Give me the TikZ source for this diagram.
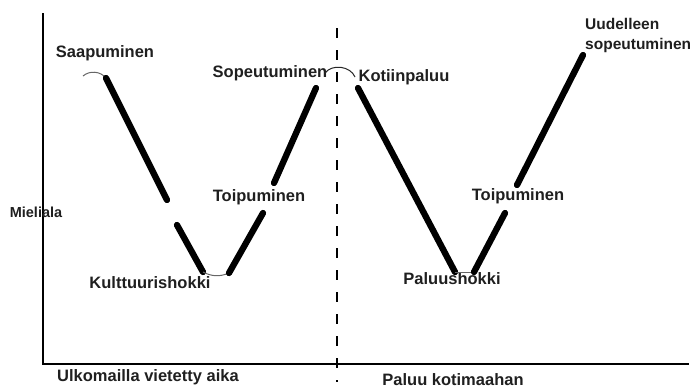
\documentclass[tikz,border=0pt]{standalone}
\usepackage{fontspec}
\setmainfont{Liberation Sans}
\begin{document}
\begin{tikzpicture}[x=1pt,y=-1pt]
\tikzset{
  phase/.style={line width=6.3pt, line cap=round},
  turn/.style={black!60, line width=1pt},
  axis/.style={line width=2.4pt, line join=miter},
  border/.style={line width=1.2pt, dash pattern=on 10pt off 12pt},
  lbl/.style={font=\bfseries\fontsize{16.5}{20}\selectfont, inner sep=0pt, text=black!88}
}
\useasboundingbox (0,0) rectangle (695,389);
% axes and the border between the two stays
\coordinate (ytop) at (43,13);
\coordinate (origin) at (43,364);
\coordinate (xend) at (689,364);
\draw [axis] (ytop) -- (origin) -- (xend);
\coordinate (btop) at (337,28);
\coordinate (bbot) at (337,382);
\draw [border] (btop) -- (bbot);
% labels
\node [lbl] (saap) at (105,53) {Saapuminen};
\node [lbl] (sopeu) at (270,73) {Sopeutuminen};
\node [lbl] (koti) at (404,77) {Kotiinpaluu};
\node [lbl] (toipA) at (259,197) {Toipuminen};
\node [lbl] (shokA) at (150,283) {Kulttuurishokki};
\node [lbl, font=\bfseries\fontsize{14.5}{17}\selectfont] (mieli) at (36,212) {Mieliala};
\node [lbl] (ulko) at (148,377) {Ulkomailla vietetty aika};
\node [lbl] (toipB) at (518,196) {Toipuminen};
\node [lbl] (shokB) at (452,279) {Paluushokki};
\node [lbl] (paluu) at (453,380) {Paluu kotimaahan};
\node [lbl, font=\bfseries\fontsize{15.5}{20}\selectfont, align=left, anchor=north west]
  (uusi) at (585,18) {Uudelleen\\sopeutuminen};
% stay abroad
\coordinate (a1) at (83,76);
\coordinate (a2) at (106,78);
\coordinate (a3) at (167,200);
\coordinate (a4) at (177,225);
\coordinate (a5) at (203,272);
\coordinate (a6) at (229,273);
\coordinate (a7) at (263,213);
\coordinate (a8) at (274,183);
\coordinate (a9) at (316,88);
\draw [turn] (a1) to[bend left=45] (a2);
\draw [phase] (a2) -- (a3);
\draw [phase] (a4) -- (a5);
\draw [turn] (a5) to[bend right=25] (a6);
\draw [phase] (a6) -- (a7);
\draw [phase] (a8) -- (a9);
% return home
\coordinate (h1) at (325,73);
\coordinate (h2) at (355,77);
\coordinate (h3) at (358,88);
\coordinate (h4) at (455,272);
\coordinate (h5) at (474,272);
\coordinate (h6) at (505,213);
\coordinate (h7) at (517,185);
\coordinate (h8) at (583,55);
\draw [turn, black!85] (h1) to[bend left=60] (h2);
\draw [phase] (h3) -- (h4);
\draw [turn] (h4) -- (h5);
\draw [phase] (h5) -- (h6);
\draw [phase] (h7) -- (h8);
\end{tikzpicture}
\end{document}
